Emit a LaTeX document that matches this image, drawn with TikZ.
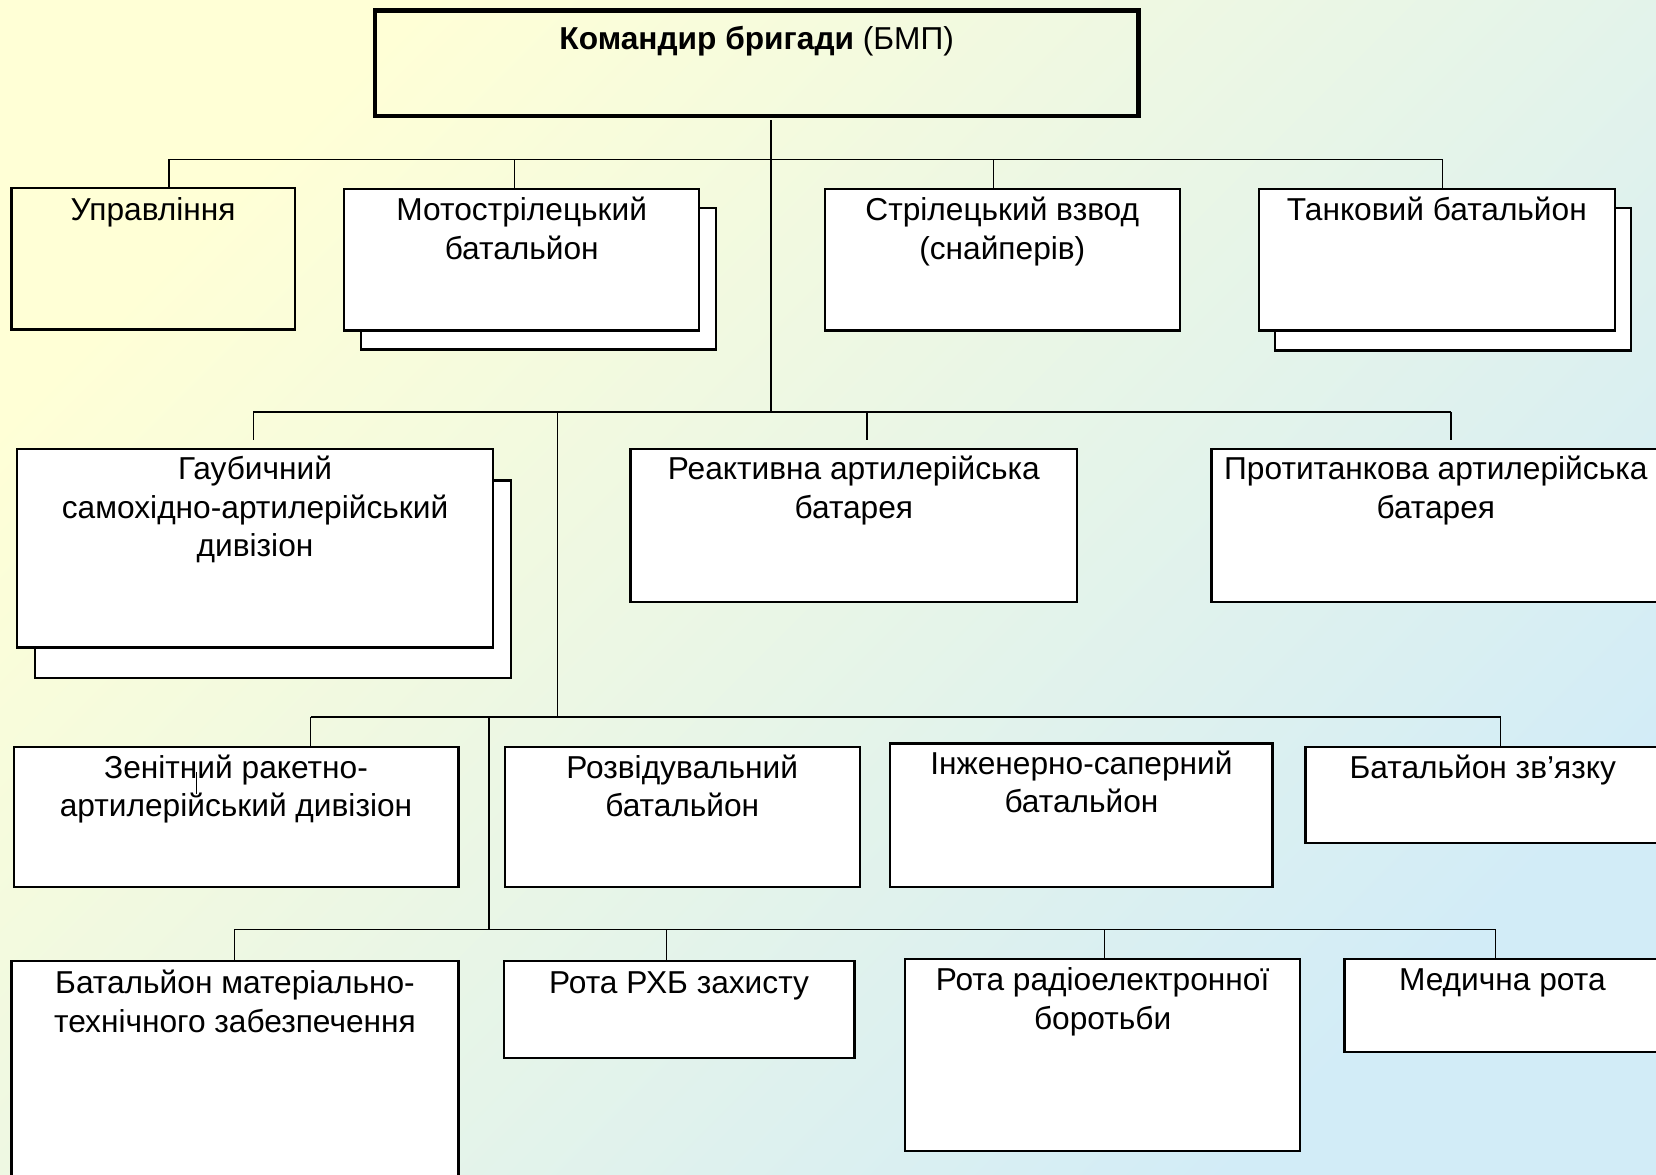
\documentclass[tikz,border=0pt]{standalone}
\usepackage{fontspec}
\setmainfont{Liberation Sans}
\definecolor{bgA}{HTML}{FFFFD6}
\definecolor{bgB}{HTML}{E5F4E3}
\definecolor{bgC}{HTML}{D2ECF7}
\newcommand\tx[1]{\parbox[t]{560pt}{\centering\fontsize{30}{36.5}\selectfont #1}}
\begin{document}
\begin{tikzpicture}[x=1pt,y=-1pt,
  box/.style={draw=black, line width=2.2pt, fill=white, inner sep=0pt, outer sep=0pt, anchor=north west},
  openbox/.style={box, fill=none},
  conn/.style={draw=black, line width=1.2pt},
  lbl/.style={anchor=base, inner sep=0pt, outer sep=0pt}]
\useasboundingbox (0,0) rectangle (1568,1112);
\shade[top color=bgA, middle color=bgB, bottom color=bgC, shading angle=45] (0,0) rectangle (1568,1112);

% commander
\node[openbox, line width=4pt, minimum width=723pt, minimum height=100pt] (cmd) at (355,10) {};
\node[lbl] (tcmd) at ([yshift=-37pt]cmd.north) {\tx{\textbf{Командир бригади} (БМП)}};

% junctions
\coordinate (j1) at (730,151);
\coordinate (j2) at (730,390);
\coordinate (b1l) at (160,151);
\coordinate (b1a) at (487,151);
\coordinate (b1b) at (941,151);
\coordinate (b1r) at (1366,151);
\coordinate (b2l) at (240,390);
\coordinate (b2a) at (528,390);
\coordinate (b2b) at (821,390);
\coordinate (b2r) at (1374,390);
\coordinate (b3l) at (294,679);
\coordinate (b3a) at (463,679);
\coordinate (b3m) at (528,679);
\coordinate (b3r) at (1421,679);
\coordinate (b4l) at (222,880);
\coordinate (b4a) at (463,880);
\coordinate (b4b) at (631,880);
\coordinate (b4c) at (1046,880);
\coordinate (b4r) at (1416,880);
\coordinate (s1) at (186,731);
\coordinate (s2) at (186,752);

% row 1
\node[openbox, minimum width=268pt, minimum height=134pt] (upr) at (11,178) {};
\node[box, minimum width=336pt, minimum height=134pt] (mots) at (342,197) {};
\node[box, minimum width=336pt, minimum height=134pt] (mot) at (326,179) {};
\node[box, minimum width=336pt, minimum height=134pt] (str) at (781,179) {};
\node[box, minimum width=337pt, minimum height=135pt] (tanks) at (1207,197) {};
\node[box, minimum width=337pt, minimum height=134pt] (tank) at (1192,179) {};

% row 2
\node[box, minimum width=451pt, minimum height=187pt] (gaus) at (33,455) {};
\node[box, minimum width=451pt, minimum height=188pt] (gau) at (16,425) {};
\node[box, minimum width=423pt, minimum height=145pt] (reak) at (597,425) {};
\node[box, minimum width=425pt, minimum height=145pt] (prot) at (1147,425) {};

% row 3
\node[box, minimum width=421pt, minimum height=133pt] (zen) at (13,707) {};
\node[box, minimum width=336pt, minimum height=133pt] (rozv) at (478,707) {};
\node[box, minimum width=362pt, minimum height=136pt] (inzh) at (843,704) {};
\node[box, minimum width=336pt, minimum height=91pt] (zv) at (1236,707) {};

% row 4
\node[box, minimum width=423pt, minimum height=240pt] (mtz) at (11,910) {};
\node[box, minimum width=332pt, minimum height=92pt] (rhb) at (477,910) {};
\node[box, minimum width=374pt, minimum height=182pt] (reb) at (857,908) {};
\node[box, minimum width=299pt, minimum height=88pt] (med) at (1273,908) {};

% connectors
\draw[conn, shorten <=4pt] (cmd.south -| j1) -- (j2);
\draw[conn] (b1l) -- (b1r);
\draw[conn] (b1l) -- (b1l |- upr.north);
\draw[conn] (b1a) -- (b1a |- mot.north);
\draw[conn] (b1b) -- (b1b |- str.north);
\draw[conn] (b1r) -- (b1r |- tank.north);
\draw[conn] (b2l) -- (b2r);
\draw[conn, shorten >=8pt] (b2l) -- (b2l |- gau.north);
\draw[conn, shorten >=8pt] (b2b) -- (b2b |- reak.north);
\draw[conn, shorten >=8pt] (b2r) -- (b2r |- prot.north);
\draw[conn] (b2a) -- (b3m);
\draw[conn] (b3l) -- (b3r);
\draw[conn] (b3l) -- (b3l |- zen.north);
\draw[conn] (b3r) -- (b3r |- zv.north);
\draw[conn] (b3a) -- (b4a);
\draw[conn] (b4l) -- (b4r);
\draw[conn] (b4l) -- (b4l |- mtz.north);
\draw[conn] (b4b) -- (b4b |- rhb.north);
\draw[conn] (b4c) -- (b4c |- reb.north);
\draw[conn] (b4r) -- (b4r |- med.north);

% labels
\node[lbl] (tupr) at ([yshift=-31pt]upr.north) {\tx{Управління}};
\node[lbl] (tmot) at ([yshift=-30pt]mot.north) {\tx{Мотострілецький\\батальйон}};
\node[lbl] (tstr) at ([yshift=-30pt]str.north) {\tx{Стрілецький взвод\\(снайперів)}};
\node[lbl] (ttank) at ([yshift=-30pt]tank.north) {\tx{Танковий батальйон}};
\node[lbl] (tgau) at ([yshift=-29pt]gau.north) {\tx{Гаубичний\\самохідно-артилерійський\\дивізіон}};
\node[lbl] (treak) at ([yshift=-29pt]reak.north) {\tx{Реактивна артилерійська\\батарея}};
\node[lbl] (tprot) at ([yshift=-29pt]prot.north) {\tx{Протитанкова артилерійська\\батарея}};
\node[lbl] (tzen) at ([yshift=-30pt]zen.north) {\tx{Зенітний ракетно-\\артилерійський дивізіон}};
\node[lbl] (trozv) at ([yshift=-30pt]rozv.north) {\tx{Розвідувальний\\батальйон}};
\node[lbl] (tinzh) at ([yshift=-29pt]inzh.north) {\tx{Інженерно-саперний\\батальйон}};
\node[lbl] (tzv) at ([yshift=-30pt]zv.north) {\tx{Батальйон зв’язку}};
\node[lbl] (tmtz) at ([yshift=-31pt]mtz.north) {\tx{Батальйон матеріально-\\технічного забезпечення}};
\node[lbl] (trhb) at ([yshift=-31pt]rhb.north) {\tx{Рота РХБ захисту}};
\node[lbl] (treb) at ([yshift=-30pt]reb.north) {\tx{Рота радіоелектронної\\боротьби}};
\node[lbl] (tmed) at ([yshift=-30pt]med.north) {\tx{Медична рота}};

\draw[conn] (s1) -- (s2);
\end{tikzpicture}
\end{document}
